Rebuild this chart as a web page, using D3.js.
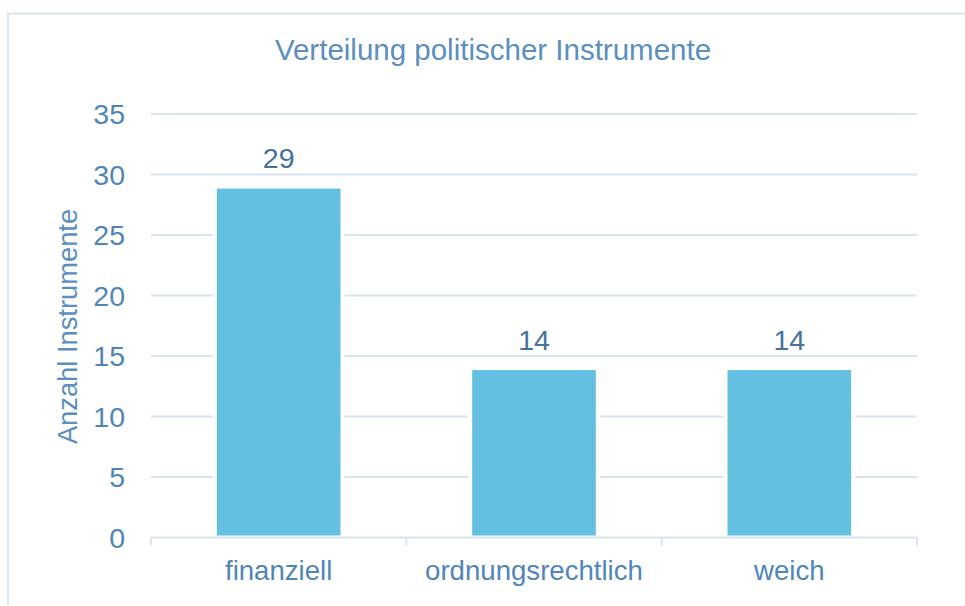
<!DOCTYPE html>
<html>
<head>
<meta charset="utf-8">
<script src="https://cdn.jsdelivr.net/npm/d3@7"></script>
<style>
  html, body { margin: 0; padding: 0; background: #fff; }
  svg { display: block; font-family: "Liberation Sans", Arial, sans-serif; }
</style>
</head>
<body>
<div id="chart"></div>
<script>
const categories = ['finanziell', 'ordnungsrechtlich', 'weich'];
const counts = [29, 14, 14];
const yTicks = [0, 5, 10, 15, 20, 25, 30, 35];
const chartTitle = 'Verteilung politischer Instrumente';
const yTitle = 'Anzahl Instrumente';

const width = 965;
const height = 606;
const margin = { top: 114, right: 48, bottom: 68.5, left: 151 };

const svg = d3.select('#chart')
  .append('svg')
  .attr('width', width)
  .attr('height', height);

// outer frame (runs off the right and bottom edge)
svg.append('rect')
  .attr('x', 8)
  .attr('y', 13.5)
  .attr('width', width + 20)
  .attr('height', height + 20)
  .attr('fill', 'none')
  .attr('stroke', '#dae5f0')
  .attr('stroke-width', 2);

const x = d3.scaleBand()
  .domain(categories)
  .range([margin.left, width - margin.right])
  .paddingInner(0.5)
  .paddingOuter(0.25);

const y = d3.scaleLinear()
  .domain([0, 35])
  .range([height - margin.bottom, margin.top]);

// gridlines
svg.append('g')
  .selectAll('line')
  .data(yTicks.filter(d => d > 0))
  .join('line')
  .attr('x1', margin.left)
  .attr('x2', width - margin.right)
  .attr('y1', d => y(d))
  .attr('y2', d => y(d))
  .attr('stroke', '#d9e4ef')
  .attr('stroke-width', 2);

// y tick labels
svg.append('g')
  .selectAll('text')
  .data(yTicks)
  .join('text')
  .attr('x', 125)
  .attr('y', d => y(d) + 10)
  .attr('text-anchor', 'end')
  .attr('fill', '#4f86b9')
  .style('font-size', '28.5px')
  .text(d => d);

// bars
svg.append('g')
  .selectAll('rect')
  .data(categories)
  .join('rect')
  .attr('x', d => x(d))
  .attr('y', (d, i) => y(counts[i]))
  .attr('width', x.bandwidth())
  .attr('height', (d, i) => y(0) - y(counts[i]))
  .attr('fill', '#63c0e0')
  .attr('stroke', '#ffffff')
  .attr('stroke-width', 4);

// x axis line and ticks
const axisY = y(0);
svg.append('line')
  .attr('x1', margin.left)
  .attr('x2', width - margin.right)
  .attr('y1', axisY)
  .attr('y2', axisY)
  .attr('stroke', '#d9e4ef')
  .attr('stroke-width', 2);

const tickXs = categories.map(d => x(d) - x.step() * x.paddingInner() / 2)
  .concat([width - margin.right]);
svg.append('g')
  .selectAll('line')
  .data(tickXs)
  .join('line')
  .attr('x1', d => d)
  .attr('x2', d => d)
  .attr('y1', axisY)
  .attr('y2', axisY + 8)
  .attr('stroke', '#d9e4ef')
  .attr('stroke-width', 2);

// category labels
svg.append('g')
  .selectAll('text')
  .data(categories)
  .join('text')
  .attr('x', d => x(d) + x.bandwidth() / 2)
  .attr('y', 580)
  .attr('text-anchor', 'middle')
  .attr('fill', '#4f86b9')
  .style('font-size', '27.6px')
  .text(d => d);

// value labels
svg.append('g')
  .selectAll('text')
  .data(categories)
  .join('text')
  .attr('x', d => x(d) + x.bandwidth() / 2)
  .attr('y', (d, i) => y(counts[i]) - 18.5)
  .attr('text-anchor', 'middle')
  .attr('fill', '#44739e')
  .style('font-size', '28.5px')
  .text((d, i) => counts[i]);

// title
svg.append('text')
  .attr('x', 493)
  .attr('y', 60)
  .attr('text-anchor', 'middle')
  .attr('fill', '#5a8fc0')
  .style('font-size', '29.5px')
  .text(chartTitle);

// y axis title
svg.append('text')
  .attr('transform', `translate(77, ${(208 + 445) / 2}) rotate(-90)`)
  .attr('text-anchor', 'middle')
  .attr('fill', '#5a8fc0')
  .style('font-size', '27.3px')
  .text(yTitle);
</script>
</body>
</html>
